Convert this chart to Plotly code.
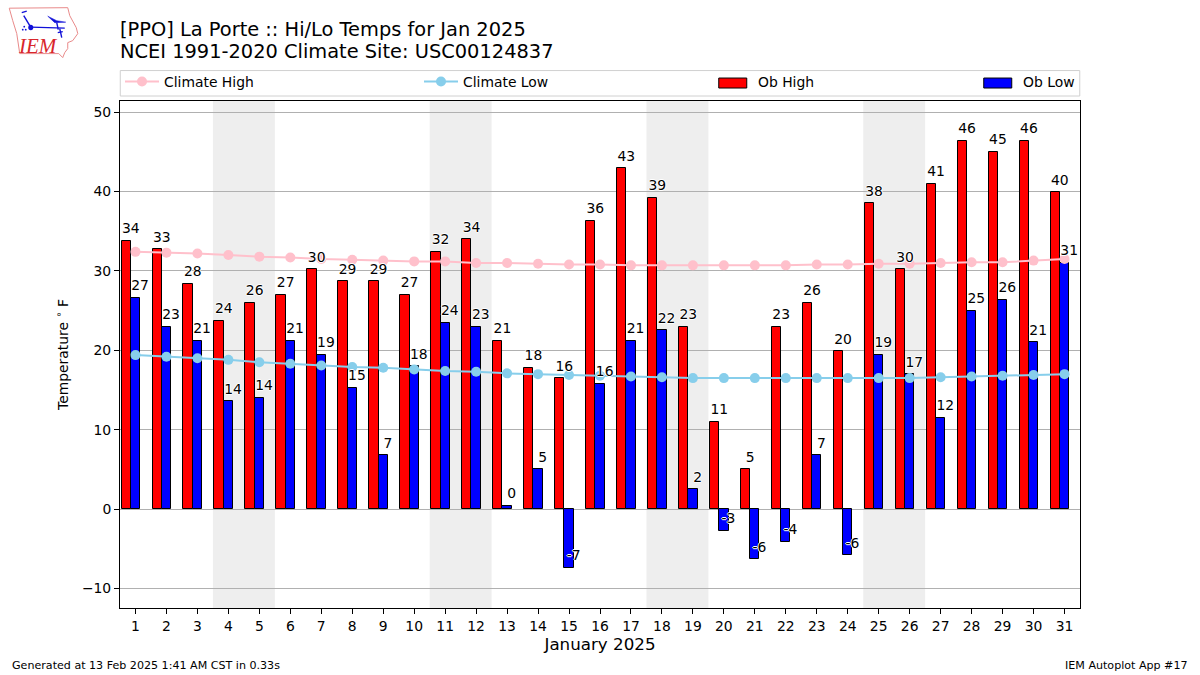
import plotly.graph_objects as go

days = list(range(1, 32))
ob_high = [33.8,32.7,28.4,23.7,26.0,27.0,30.2,28.7,28.7,27.0,32.4,34.0,21.2,17.8,16.5,36.3,42.9,39.2,23.0,11.0,5.0,23.0,26.0,19.9,38.5,30.2,41.0,46.4,45.0,46.4,39.9]
ob_low = [26.6,23.0,21.2,13.6,14.0,21.2,19.4,15.3,6.8,18.0,23.5,23.0,0.4,5.0,-7.4,15.8,21.2,22.5,2.5,-2.7,-6.3,-4.1,6.8,-5.8,19.4,17.0,11.5,25.0,26.4,21.0,31.0]
high_labels = [34,33,28,24,26,27,30,29,29,27,32,34,21,18,16,36,43,39,23,11,5,23,26,20,38,30,41,46,45,46,40]
low_labels = [27,23,21,14,14,21,19,15,7,18,24,23,0,5,-7,16,21,22,2,-3,-6,-4,7,-6,19,17,12,25,26,21,31]
climate_high = [32.4,32.3,32.2,32.0,31.8,31.7,31.5,31.4,31.3,31.2,31.2,31.0,31.0,30.9,30.8,30.8,30.7,30.7,30.7,30.7,30.7,30.7,30.8,30.8,30.9,30.9,31.0,31.1,31.1,31.3,31.5]
climate_low = [19.4,19.2,19.0,18.8,18.5,18.3,18.1,17.9,17.8,17.6,17.4,17.3,17.1,17.0,16.9,16.8,16.7,16.6,16.5,16.5,16.5,16.5,16.5,16.5,16.5,16.5,16.6,16.7,16.8,16.9,17.0]
weekend_bands = [(3.5,5.5),(10.5,12.5),(17.5,19.5),(24.5,26.5)]
y_ticks = [-10,0,10,20,30,40,50]

FONT = "DejaVu Sans"
L, R, T, B = 120.25, 1080.25, 100.5, 608.5
def X(p): return (p - L) / (R - L)
def Y(p): return (B - p) / (B - T)

def path(points, close=False):
    s = "M " + " L ".join(f"{X(a):.5f},{Y(b):.5f}" for a, b in points)
    return s + (" Z" if close else "")

shapes = [dict(type="rect", xref="x", yref="paper", x0=a, x1=b, y0=0, y1=1,
               fillcolor="#eeeeee", line_width=0, layer="below") for a, b in weekend_bands]

# legend frame and bar keys
shapes.append(dict(type="rect", xref="paper", yref="paper", x0=X(120.5), x1=X(1080), y0=Y(95.5), y1=Y(70),
                   line=dict(color="#d0d0d0", width=1), fillcolor="white", layer="below"))
for px, col in [(719, "#ff0000"), (984, "#0000ff")]:
    shapes.append(dict(type="rect", xref="paper", yref="paper", x0=X(px), x1=X(px+28), y0=Y(87.5), y1=Y(77.5),
                       line=dict(color="black", width=1), fillcolor=col, layer="above"))

# IEM logo
outline = [(9.5,7.5),(68,7),(70,15),(76.5,27),(78,33),(73,40),(68,42),(68,48),(65,52),(63,57),(59,53),(20,53),(17,33),(13,20)]
shapes.append(dict(type="path", xref="paper", yref="paper", path=path(outline, True),
                   line=dict(color="#e98a8a", width=1), fillcolor="white", layer="above"))
blue = dict(color="#1010d8", width=1.4)
for seg in [[(31,26.5),(65,27.5)], [(30,25),(24,15)], [(22,12),(27,10.5)], [(57,22),(58.5,29)],
            [(60,28),(62,37)], [(58,32),(63,31)]]:
    shapes.append(dict(type="path", xref="paper", yref="paper", path=path(seg), line=blue, layer="above"))
shapes.append(dict(type="path", xref="paper", yref="paper", path=path([(48,15.5),(57,20),(66,21.5),(55,22)], True),
                   line=dict(color="#1010d8", width=0.5), fillcolor="#1010d8", layer="above"))
shapes.append(dict(type="circle", xref="paper", yref="paper", x0=X(28.5), x1=X(33.5), y0=Y(29.5), y1=Y(24),
                   line_width=0, fillcolor="#1010d8", layer="above"))
for cx, cy in [(23,29),(26,29),(24.5,26)]:
    shapes.append(dict(type="circle", xref="paper", yref="paper", x0=X(cx-0.9), x1=X(cx+0.9), y0=Y(cy+0.9), y1=Y(cy-0.9),
                       line_width=0, fillcolor="#1010d8", layer="above"))

fig = go.Figure()
fig.add_trace(go.Bar(x=days, y=ob_high, width=0.3, offset=-0.45, marker=dict(color="#ff0000", line=dict(color="black", width=1)), showlegend=False))
fig.add_trace(go.Bar(x=days, y=ob_low, width=0.3, offset=-0.15, marker=dict(color="#0000ff", line=dict(color="black", width=1)), showlegend=False))
fig.add_trace(go.Scatter(x=days, y=climate_high, mode="lines+markers", name="Climate High", legend="legend",
                         line=dict(color="pink", width=2), marker=dict(color="pink", size=10)))
fig.add_trace(go.Scatter(x=days, y=climate_low, mode="lines+markers", name="Climate Low", legend="legend2",
                         line=dict(color="skyblue", width=2), marker=dict(color="skyblue", size=10)))
# legend text for the bars (keys are drawn as outlined rectangles)
fig.add_trace(go.Scatter(x=[None], y=[None], mode="lines", name="Ob High", legend="legend3", line=dict(color="rgba(0,0,0,0)", width=1)))
fig.add_trace(go.Scatter(x=[None], y=[None], mode="lines", name="Ob Low", legend="legend4", line=dict(color="rgba(0,0,0,0)", width=1)))

halo = "-1px 0 0 #fff, 1px 0 0 #fff, 0 -1px 0 #fff, 0 1px 0 #fff"
label_font = dict(family=FONT, size=13.9, color="black", shadow=halo)
hidden = dict(size=5, opacity=0)
fig.add_trace(go.Scatter(x=[d - 0.15 for d in days], y=ob_high, mode="markers+text", text=[str(v) for v in high_labels], marker=hidden,
                         textposition="top center", textfont=label_font, showlegend=False, cliponaxis=False))
fig.add_trace(go.Scatter(x=[d + 0.15 for d in days], y=ob_low, mode="markers+text", text=[str(v) for v in low_labels], marker=hidden,
                         textposition="top center", textfont=label_font, showlegend=False, cliponaxis=False))

def legend_at(px):
    return dict(x=X(px), y=Y(81.5), xref="paper", yref="paper", xanchor="left", yanchor="middle",
                bgcolor="rgba(0,0,0,0)", borderwidth=0, itemwidth=34, itemclick=False, itemdoubleclick=False,
                font=dict(family=FONT, size=13.9, color="black"), tracegroupgap=0)

annotations = [
    dict(text="[PPO] La Porte :: Hi/Lo Temps for Jan 2025", x=X(118), y=Y(28.5), font=dict(family=FONT, size=19.4, color="black")),
    dict(text="NCEI 1991-2020 Climate Site: USC00124837", x=X(118), y=Y(50.5), font=dict(family=FONT, size=19.4, color="black")),
    dict(text="Generated at 13 Feb 2025 1:41 AM CST in 0.33s", x=X(10), y=Y(666), font=dict(family=FONT, size=11.1, color="black")),
    dict(text="IEM Autoplot App #17", x=X(1190), y=Y(666), xanchor="right", font=dict(family=FONT, size=11.1, color="black")),
    dict(text="<i>IEM</i>", x=X(38), y=Y(45), xanchor="center", font=dict(family="Liberation Serif", size=21, color="#d8262c")),
]
for a in annotations:
    a.update(xref="paper", yref="paper", showarrow=False, yanchor="middle")
    a.setdefault("xanchor", "left")

fig.update_layout(
    width=1200, height=675, autosize=False,
    margin=dict(l=L, r=1200 - R, t=T, b=675 - B, pad=0),
    paper_bgcolor="white", plot_bgcolor="white",
    barmode="overlay", bargap=0,
    font=dict(family=FONT, size=13.9, color="black"),
    shapes=shapes, annotations=annotations,
    legend=legend_at(120.25), legend2=legend_at(419.25), legend3=legend_at(714.25), legend4=legend_at(979.25),
    xaxis=dict(range=[0.5, 31.5], tickmode="array", tickvals=days, ticktext=[str(d) for d in days],
               ticks="outside", ticklen=5, tickwidth=1, tickcolor="black", showgrid=False, zeroline=False,
               showline=True, linecolor="black", linewidth=1, mirror=True,
               title=dict(text="January 2025", font=dict(family=FONT, size=16.7), standoff=4),
               tickfont=dict(family=FONT, size=13.9)),
    yaxis=dict(range=[-12.45, 51.4], tickmode="array", tickvals=y_ticks, ticks="outside", ticklen=5, tickwidth=1,
               tickcolor="black", showgrid=True, gridcolor="#b0b0b0", gridwidth=1, zeroline=False,
               showline=True, linecolor="black", linewidth=1, mirror=True,
               title=dict(text="Temperature <sup>∘</sup> F", font=dict(family=FONT, size=13.9), standoff=10),
               tickfont=dict(family=FONT, size=13.9)),
)
fig.write_html("out.html", config=dict(displayModeBar=False),
               post_script="document.body.style.margin='0';document.body.style.overflow='hidden';")
